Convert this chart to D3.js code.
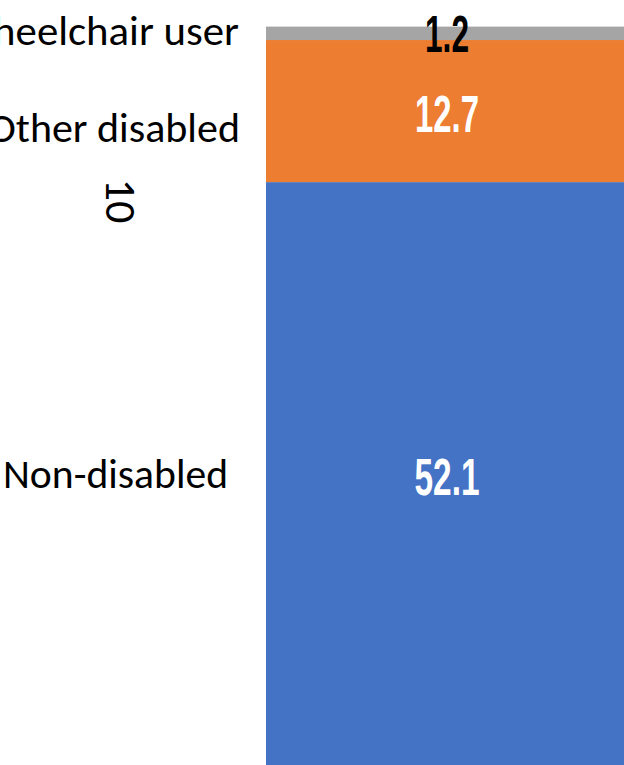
<!DOCTYPE html>
<html>
<head>
<meta charset="utf-8">
<script src="https://cdn.jsdelivr.net/npm/d3@7"></script>
<style>
  html, body { margin: 0; padding: 0; background: #fff; overflow: hidden; }
  svg { display: block; }
</style>
</head>
<body>
<svg id="chart" width="624" height="765"></svg>
<script>
// ---- data ----
const categories = ["10"];
const seriesNames = ["Non-disabled", "Other disabled", "Wheelchair user"];
const seriesValues = [52.1, 12.7, 1.2];
const seriesColors = ["#4472C4", "#ED7D31", "#A5A5A5"];
const labelColors = ["#FFFFFF", "#FFFFFF", "#000000"];
const tickLabels = ["10"];

// ---- layout ----
const W = 624, H = 765;
const svg = d3.select("#chart");

const total = d3.sum(seriesValues);
const y = d3.scaleLinear().domain([0, total]).range([765, 26.6]);
const x = d3.scaleBand().domain(categories).range([266, 628]).padding(0);

// stacked data
const rows = [Object.fromEntries(seriesNames.map((n, i) => [n, seriesValues[i]]))];
rows[0].cat = categories[0];
const stack = d3.stack().keys(seriesNames)(rows);

// bars
svg.append("g").selectAll("rect")
  .data(stack)
  .join("rect")
  .attr("x", d => x(d[0].data.cat))
  .attr("width", x.bandwidth())
  .attr("y", d => y(d[0][1]))
  .attr("height", d => y(d[0][0]) - y(d[0][1]))
  .attr("fill", (d, i) => seriesColors[i]);

// value labels (condensed bold)
const fmt = d3.format(".1f");
const valueLen = { "52.1": 65, "12.7": 64, "1.2": 44 };
const valueDy = [21, 21, 19];
svg.append("g").selectAll("text")
  .data(stack)
  .join("text")
  .attr("x", d => x(d[0].data.cat) + x.bandwidth() / 2 - valueLen[fmt(d[0][1] - d[0][0])] / 2)
  .attr("y", (d, i) => y((d[0][0] + d[0][1]) / 2) + valueDy[i])
  .attr("font-family", "'Liberation Sans', Arial, sans-serif")
  .attr("font-weight", "bold")
  .attr("font-size", 52)
  .attr("fill", (d, i) => labelColors[i])
  .attr("textLength", d => valueLen[fmt(d[0][1] - d[0][0])])
  .attr("lengthAdjust", "spacingAndGlyphs")
  .text(d => fmt(d[0][1] - d[0][0]));

// series name labels on the left
const nameLen = [225, 252, 284];
const nameEnd = [228, 240, 239];
const nameDy = [14, 31, 12];
svg.append("g").selectAll("text")
  .data(stack)
  .join("text")
  .attr("x", (d, i) => nameEnd[i] - nameLen[i])
  .attr("y", (d, i) => y((d[0][0] + d[0][1]) / 2) + nameDy[i])
  .attr("font-family", "Carlito, Lato, 'Open Sans', sans-serif")
  .attr("font-size", 41)
  .attr("fill", "#000")
  .attr("textLength", (d, i) => nameLen[i])
  .attr("lengthAdjust", "spacingAndGlyphs")
  .text((d, i) => seriesNames[i]);

// rotated category tick label
svg.append("g")
  .selectAll("text")
  .data(tickLabels)
  .join("text")
  .attr("transform", "translate(106,201) rotate(90)")
  .attr("text-anchor", "middle")
  .attr("font-family", "Carlito, Lato, 'Open Sans', sans-serif")
  .attr("font-size", 44)
  .attr("fill", "#000")
  .text(d => d);
</script>
</body>
</html>
